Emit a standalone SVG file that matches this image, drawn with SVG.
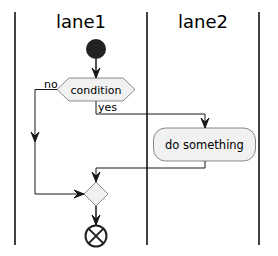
<svg xmlns="http://www.w3.org/2000/svg" width="278" height="256" viewBox="0 0 278 256">
<style>
.lane{stroke:#000;stroke-width:1.5;fill:none}
.title{font-family:"DejaVu Sans",sans-serif;font-size:18px;fill:#000;text-anchor:middle}
.lbl{font-family:"DejaVu Sans",sans-serif;font-size:11px;fill:#000}
.shape{fill:#F1F1F1;stroke:#181818;stroke-width:0.5}
.edge{fill:none;stroke:#181818;stroke-width:1}
.head{fill:#181818;stroke:#181818;stroke-width:1}
</style>
<g id="lanes">
<line class="lane" x1="15" y1="12" x2="15" y2="245"/>
<line class="lane" x1="147" y1="12" x2="147" y2="245"/>
<line class="lane" x1="259" y1="12" x2="259" y2="245"/>
<text class="title" x="81" y="28">lane1</text>
<text class="title" x="203" y="28">lane2</text>
</g>
<g id="start"><circle cx="96" cy="49" r="10" fill="#222"/></g>
<g id="condition">
<polygon class="shape" points="57,89.5 69,78 123,78 135,89.5 123,101 69,101"/>
<text class="lbl" x="96" y="93.5" text-anchor="middle">condition</text>
</g>
<g id="activity">
<rect class="shape" x="153.5" y="128" width="102" height="33" rx="12"/>
<text class="lbl" x="204.5" y="148.5" text-anchor="middle" style="font-size:11.5px">do something</text>
</g>
<g id="merge"><polygon class="shape" points="96,182 108,194 96,206 84,194"/></g>
<g id="end">
<circle cx="96" cy="236" r="10.5" fill="none" stroke="#222" stroke-width="2"/>
<path d="M88.6,228.6 L103.4,243.4 M103.4,228.6 L88.6,243.4" stroke="#222" stroke-width="2"/>
</g>
<g id="connectors">
<line class="edge" x1="96" y1="59" x2="96" y2="78" style="stroke-width:1.5"/>
<polygon class="head" points="92,68 96,78 100,68 96,72"/>
<polyline class="edge" points="57,89.5 35,89.5 35,142"/>
<polygon class="head" points="31,132 35,142 39,132 35,136"/>
<polyline class="edge" points="35,142 35,194 84,194"/>
<polygon class="head" points="74,190 84,194 74,198 78,194"/>
<text class="lbl" x="44" y="88">no</text>
<polyline class="edge" points="96,101 96,114 205,114 205,128"/>
<polygon class="head" points="201,118 205,128 209,118 205,122"/>
<text class="lbl" x="98" y="111">yes</text>
<polyline class="edge" points="205,161 205,168 96,168 96,182"/>
<polygon class="head" points="92,172 96,182 100,172 96,176"/>
<line class="edge" x1="96" y1="206" x2="96" y2="225" style="stroke-width:1.5"/>
<polygon class="head" points="92,215 96,225 100,215 96,219"/>
</g>
</svg>
